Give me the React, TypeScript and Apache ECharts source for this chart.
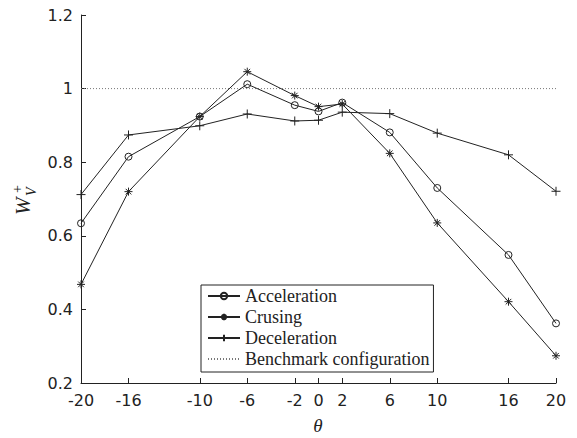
import React, { useEffect, useRef } from "react";
import * as echarts from "echarts";

const thetas = [-20, -16, -10, -6, -2, 0, 2, 6, 10, 16, 20];
const acceleration = [0.634, 0.815, 0.924, 1.012, 0.955, 0.938, 0.962, 0.881, 0.73, 0.548, 0.362];
const cruising = [0.468, 0.72, 0.924, 1.046, 0.981, 0.951, 0.958, 0.824, 0.635, 0.421, 0.274];
const deceleration = [0.712, 0.874, 0.899, 0.931, 0.912, 0.914, 0.936, 0.932, 0.879, 0.82, 0.721];
const benchmarkX = [-20, 20];
const benchmarkY = [1, 1];
const xTicks = [-20, -16, -10, -6, -2, 0, 2, 6, 10, 16, 20];
const names = ["Acceleration", "Crusing", "Deceleration", "Benchmark configuration"];

const CIRCLE = "path://M0,5A5,5 0 1,1 10,5A5,5 0 1,1 0,5Z";
const PLUS = "path://M5,0L5,10M0,5L10,5";
const STAR = "path://M5,0L5,10M0,5L10,5M1.5,1.5L8.5,8.5M1.5,8.5L8.5,1.5";

export default function App() {
  const ref = useRef<HTMLDivElement>(null);
  useEffect(() => {
    if (!ref.current) return;
    document.body.style.margin = "0";
    const chart = echarts.init(ref.current, undefined, { renderer: "svg" });
    const ink = "#222";
    const zip = (ys: number[]) => thetas.map((t, i) => [t, ys[i]]);
    const lineSeries = (name: string, ys: number[], symbol: string, size: number, fill: string) => ({
      name,
      type: "line",
      data: zip(ys),
      symbol,
      symbolSize: size,
      showSymbol: true,
      lineStyle: { color: ink, width: 1 },
      itemStyle: { color: fill, borderColor: ink, borderWidth: 1 },
      z: 3,
    });
    chart.setOption({
      animation: false,
      grid: { left: 81, right: 21, top: 15, bottom: 55 },
      xAxis: {
        type: "value",
        min: -20,
        max: 20,
        axisLine: { onZero: false, lineStyle: { color: ink, width: 1 } },
        axisTick: { show: true, inside: true, length: 5, customValues: xTicks, lineStyle: { color: ink } },
        axisLabel: {
          customValues: xTicks,
          fontFamily: "DejaVu Sans",
          fontSize: 16,
          color: ink,
          margin: 9,
        },
        splitLine: { show: false },
      },
      yAxis: {
        type: "value",
        min: 0.2,
        max: 1.2,
        interval: 0.2,
        axisLine: { show: true, onZero: false, lineStyle: { color: ink, width: 1 } },
        axisTick: { show: true, inside: true, length: 5, lineStyle: { color: ink } },
        axisLabel: {
          fontFamily: "DejaVu Sans",
          fontSize: 16,
          color: ink,
          margin: 8,
          formatter: (v: number) => String(Math.round(v * 10) / 10),
        },
        splitLine: { show: false },
      },
      legend: {
        orient: "vertical",
        left: 201,
        top: 285,
        data: names,
        backgroundColor: "#fff",
        borderColor: ink,
        borderWidth: 1,
        padding: [2, 4, 4, 6],
        itemGap: 3,
        itemWidth: 32,
        itemHeight: 8,
        textStyle: { fontFamily: "Liberation Serif", fontSize: 18, lineHeight: 18, color: ink },
      },
      series: [
        lineSeries(names[0], acceleration, CIRCLE, 7, "transparent"),
        lineSeries(names[1], cruising, STAR, 8, ink),
        lineSeries(names[2], deceleration, PLUS, 9, ink),
        {
          name: names[3],
          type: "line",
          data: benchmarkX.map((x, i) => [x, benchmarkY[i]]),
          symbol: "none",
          lineStyle: { color: "#777", width: 1, type: [1, 2] },
          itemStyle: { color: "transparent" },
          z: 2,
        },
      ],
      graphic: [
        {
          type: "text",
          x: 318,
          y: 425,
          style: {
            text: "θ",
            font: "italic 19px 'Liberation Serif'",
            fill: ink,
            align: "center",
            verticalAlign: "middle",
          },
        },
        {
          type: "group",
          x: 23,
          y: 215,
          rotation: Math.PI / 2,
          children: [
            {
              type: "text",
              x: 0,
              y: 0,
              style: { text: "W", font: "italic 21px 'Liberation Serif'", fill: ink, verticalAlign: "middle" },
            },
            {
              type: "text",
              x: 19,
              y: 8,
              style: { text: "V", font: "italic 14px 'Liberation Serif'", fill: ink, verticalAlign: "middle" },
            },
            {
              type: "text",
              x: 22,
              y: -6,
              style: { text: "+", font: "14px 'Liberation Serif'", fill: ink, verticalAlign: "middle" },
            },
          ],
        },
      ],
    });
    return () => chart.dispose();
  }, []);
  return <div ref={ref} style={{ width: 577, height: 438 }} />;
}
